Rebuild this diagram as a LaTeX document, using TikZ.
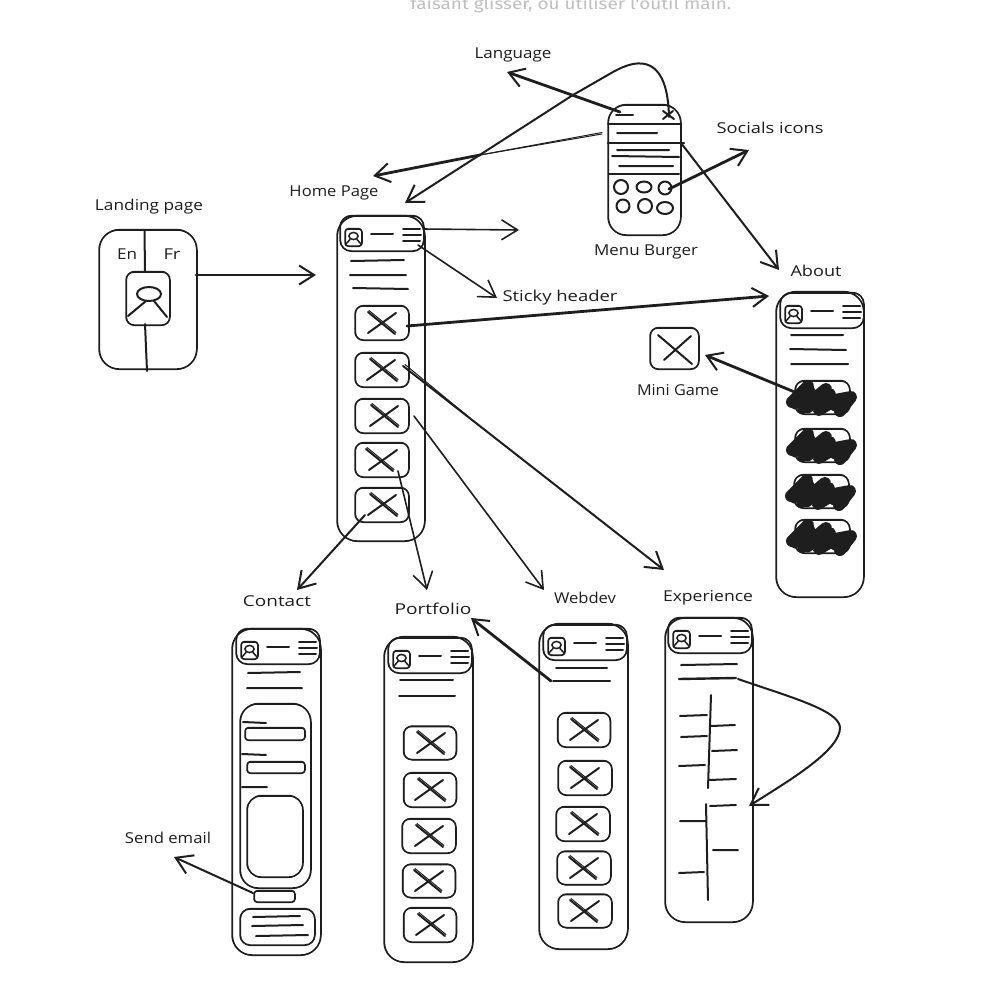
\documentclass[tikz,border=0pt]{standalone}
\usepackage{fontspec}
\usepackage{graphicx}
\usetikzlibrary{arrows.meta,calc}
\setmainfont{Open Sans}
\newfontfamily\topfont{Fira Sans}
\definecolor{ink}{HTML}{1E1E1E}
\tikzset{
  ink1/.style={draw=ink,line width=1.5pt,line cap=round,line join=round},
  ink2/.style={draw=ink,line width=2pt,line cap=round,line join=round},
  lab/.style={inner sep=0pt,text=ink,anchor=base,font=\fontsize{15}{18}\selectfont},
  tipv/.style={-{Straight Barb[length=16pt,width=20pt]}},
  arrthin/.style={ink1,line width=1.6pt,tipv},
  arrmid/.style={ink1,line width=2pt,tipv},
  arrbold/.style={ink1,line width=2.8pt,-{Straight Barb[length=15pt,width=19pt,line width=2pt]}},
  scribble/.style={draw=ink,line width=12pt,line cap=round,line join=round},
}
% rough rounded box: two slightly different strokes
\newcommand\rbox[5]{%
  \draw[ink1,rounded corners=#5pt] (#1,#2) rectangle (#3,#4);
  \draw[ink1,line width=1pt,rounded corners=#5pt] ({#1+.6},{#2-.7}) rectangle ({#3-.5},{#4+.5});}
% header bar of a phone frame
\newcommand\hdr[2]{\begin{scope}[shift={(#1,#2)}]
  \rbox{0}{0}{84}{35}{11}
  \rbox{5}{13}{22}{30}{3}
  \draw[ink1] (13.5,20) ellipse (4.6pt and 3.6pt);
  \draw[ink1] (5.5,28.5) -- (10,23.5) (17,23.5) -- (21.5,28.5);
  \draw[ink2] (31,18) -- (53,18);
  \draw[ink2] (63,13) -- (80,13) (63,19) -- (81,19) (63,25) -- (80,25);
\end{scope}}
% card with a cross; centre, width, height, jitters
\newcommand\xcard[6]{\begin{scope}[shift={(#1,#2)}]
  \pgfmathsetmacro\hw{#3/2}\pgfmathsetmacro\hh{#4/2}
  \pgfmathsetmacro\nw{-#3/2}\pgfmathsetmacro\nh{-#4/2}
  \rbox{\nw}{\nh}{\hw}{\hh}{8}
  \draw[ink2] ({-14+#5},-11) -- ({13+#5},11);
  \draw[ink2] ({-14+#6},10) -- ({14+#6},-10);
  \draw[ink1,line width=1pt] ({-13+#5},-12.5) -- ({14+#5},9.5);
\end{scope}}
% scribbled card
\newcommand\scard[2]{\begin{scope}[shift={(#1,#2)}]
  \rbox{0}{0}{55}{33}{9}
  \draw[scribble] (-3,21) -- (13,5) -- (8,27) -- (31,8) -- (24,29) -- (40,19) -- (56,16) -- (45,30);
  \draw[scribble,line width=9pt] (0,24) -- (16,10) (13,28) -- (32,12) (8,10) -- (13,26)
    (28,27) -- (54,17) (26,15) -- (40,26) (36,12) -- (38,22);
\end{scope}}
\newcommand\lbl[5]{\node[lab] (#1) at (#2,#3) {\resizebox{#4pt}{\height}{#5}};}
\begin{document}
\begin{tikzpicture}[x=1pt,y=-1pt]
\useasboundingbox (0,0) rectangle (989,991);
\fill[white] (0,0) rectangle (989,991);
\node[inner sep=0pt,anchor=base,text=black!25] (cut) at (571,9) {\resizebox{321pt}{\height}{\fontsize{16}{18}\topfont faisant glisser, ou utiliser l'outil main.}};

% labels (x centre, baseline, width)
\lbl{tLand}{149}{210}{108}{Landing page}
\lbl{tHome}{334}{196}{89}{Home Page}
\lbl{tLang}{513}{58}{77}{Language}
\lbl{tSoc}{770}{133}{107}{Socials icons}
\lbl{tMenu}{646}{255}{104}{Menu Burger}
\lbl{tAbout}{816}{276}{51}{About}
\lbl{tSticky}{560}{301}{115}{Sticky header}
\lbl{tGame}{678}{395}{82}{Mini Game}
\lbl{tCont}{277}{606}{68}{Contact}
\lbl{tPort}{433}{614}{77}{Portfolio}
\lbl{tWeb}{585}{603}{62}{Webdev}
\lbl{tExp}{708}{601}{90}{Experience}
\lbl{tSend}{168}{843}{86}{Send email}
\lbl{tEn}{127}{259}{20}{En}
\lbl{tFr}{172}{259}{17}{Fr}

% Landing page
\rbox{99}{230}{197}{369}{20}
\draw[ink2] (144.5,230) -- (145,271) (145,324) -- (147,371);
\rbox{126}{272}{170}{325}{8}
\draw[ink2] (149,294) ellipse (12pt and 7pt);
\draw[ink2] (128,316) -- (146,301) (154,301) -- (167,317);

% Home page
\rbox{337}{216}{425}{541}{20}
\hdr{340}{216}
\draw[ink2] (351,261) -- (404,260) (350,275) -- (406,275) (353,288) -- (408,289);
\xcard{382}{323}{54}{34}{0}{0}
\xcard{382}{370}{54}{34}{2}{-1}
\xcard{382}{416}{54}{34}{3}{2}
\xcard{382}{460}{54}{34}{-2}{1}
\xcard{382}{505}{54}{34}{2}{0}

% Menu burger
\rbox{608}{105}{681}{235}{18}
\draw[ink2] (608,124) -- (681,124);
\draw[ink1,line width=2.4pt] (608,143) -- (684,143);
\draw[ink2] (609,174) -- (679,174);
\draw[ink2] (616,115) -- (633,115);
\draw[ink2] (663,111) -- (674,119) (663,119) -- (673,111);
\draw[ink2] (617,133) -- (657,133) (617,150) -- (669,150) (612,156) -- (679,157) (619,166) -- (673,166);
\draw[ink2] (621,187) ellipse (7pt and 7pt) (644,187) ellipse (7.5pt and 5.5pt) (665,188) ellipse (6.5pt and 6.5pt)
  (623,206) ellipse (6.5pt and 6.5pt) (645,206) ellipse (7pt and 7pt) (665,208) ellipse (8pt and 6pt);

% About
\rbox{776}{292}{864}{597}{20}
\hdr{780}{293}
\draw[ink2] (791,335) -- (843,335) (790,349) -- (846,350) (791,364) -- (848,364);
\scard{795}{381}
\scard{795}{429}
\scard{794}{475}
\scard{795}{520}

% Mini game
\rbox{650}{328}{699}{369}{8}
\draw[ink2] (658,335) -- (692,364) (664,360) -- (691,336);

% Contact
\rbox{232}{629}{321}{955}{20}
\hdr{236}{629}
\draw[ink2] (248,673) -- (300,672) (247,688) -- (302,688);
\rbox{240}{704}{311}{888}{18}
\draw[ink2] (243,722) -- (266,723) (242,754) -- (266,755) (242,787) -- (267,787);
\rbox{245}{728}{305}{740}{3}
\rbox{247}{762}{305}{773}{3}
\rbox{247}{796}{303}{877}{14}
\rbox{254}{891}{295}{902}{3}
\rbox{240}{909}{315}{945}{10}
\draw[ink2] (253,917) -- (300,916) (252,926) -- (303,925) (256,936) -- (308,935);

% Portfolio
\rbox{384}{637}{473}{962}{20}
\hdr{388}{638}
\draw[ink2] (400,680) -- (453,680) (399,696) -- (455,696);
\xcard{430}{743}{53}{33}{1}{1}
\xcard{430}{790}{53}{34}{2}{-1}
\xcard{429}{836}{54}{34}{1}{0}
\xcard{429}{881}{53}{33}{-1}{0}
\xcard{430}{925}{53}{34}{2}{0}

% Webdev
\rbox{539}{624}{628}{949}{20}
\hdr{543}{625}
\draw[ink2] (556,668) -- (607,668) (553,681) -- (610,681);
\xcard{584}{730}{53}{34}{1}{0}
\xcard{585}{778}{54}{34}{-1}{0}
\xcard{583}{824}{54}{34}{2}{0}
\xcard{584}{868}{54}{33}{-1}{0}
\xcard{585}{911}{54}{33}{-1}{0}

% Experience
\rbox{665}{618}{753}{922}{20}
\hdr{668}{618}
\draw[ink2] (681,665) -- (737,664);
\draw[ink1,line width=2.4pt] (679,679) -- (736,678);
\draw[ink2] (711,695) -- (708,788) (680,716) -- (707,715) (681,737) -- (707,736) (679,766) -- (705,765)
  (711,726) -- (735,725) (712,751) -- (737,750) (709,780) -- (736,779);
\draw[ink2] (706,804) -- (708,900) (710,806) -- (736,805) (680,821) -- (706,821) (713,850) -- (738,850) (679,873) -- (704,872);

% connector ends
\coordinate (aL1) at (196,275); \coordinate (aL2) at (316,275);
\coordinate (aH1) at (423,229); \coordinate (aH2) at (519,230);
\coordinate (aS1) at (418,245); \coordinate (aS2) at (497,298);
\coordinate (aA1) at (407,326); \coordinate (aA2) at (769,296);
\coordinate (aE1) at (403,366); \coordinate (aE1b) at (405,364.5); \coordinate (aE2) at (664,570); \coordinate (aEm) at (470,418);
\coordinate (aW1) at (414,416); \coordinate (aW2) at (544,590);
\coordinate (aP1) at (398,471); \coordinate (aP2) at (427,590);
\coordinate (aC1) at (365,515); \coordinate (aC2) at (297,590);
\coordinate (aX1) at (669,117); \coordinate (aX2) at (405,203);
\coordinate (aJ1) at (602,134); \coordinate (aJ1b) at (602,132.5); \coordinate (aJm) at (480,155); \coordinate (aJ2) at (373,176);
\coordinate (aG1) at (620,112); \coordinate (aG2) at (507,72);
\coordinate (aT1) at (669,189); \coordinate (aT2) at (749,150);
\coordinate (aB1) at (681,143); \coordinate (aB2) at (779,270);
\coordinate (aN1) at (551,681); \coordinate (aN2) at (471,618);
\coordinate (aM1) at (797,393); \coordinate (aM2) at (705,355);
\coordinate (aZ1) at (253,893); \coordinate (aZ2) at (174,857);
\coordinate (aQ1) at (738,679); \coordinate (aQ2) at (749,806);

% connectors
\draw[arrbold] (aL1) -- (aL2);
\draw[arrthin] (aH1) -- (aH2);
\draw[arrthin] (aS1) -- (aS2);
\draw[arrbold] (aA1) -- (aA2);
\draw[ink1,line width=1pt] (aE1b) -- (aEm);
\draw[arrmid] (aE1) -- (aE2);
\draw[arrthin] (aW1) -- (aW2);
\draw[arrthin] (aP1) -- (aP2);
\draw[arrmid] (aC1) -- (aC2);
\draw[arrmid] (aX1) .. controls (668,72) and (652,50) .. (613,72)
  -- (573,95) -- (aX2);
\draw[ink1,line width=1pt] (aJ1) -- (aJm);
\draw[ink1,line width=1pt] (aJ1b) -- (aJm);
\draw[arrbold] (aJm) -- (aJ2);
\draw[arrbold] (aG1) -- (aG2);
\draw[arrbold] (aT1) -- (aT2);
\draw[arrmid] (aB1) -- (aB2);
\draw[arrbold] (aN1) -- (aN2);
\draw[arrbold] (aM1) -- (aM2);
\draw[arrmid] (aZ1) -- (aZ2);
\draw[arrmid] (aQ1) .. controls (790,697) and (838,710) .. (840,727)
  .. controls (841,750) and (790,780) .. (aQ2);
\end{tikzpicture}
\end{document}
